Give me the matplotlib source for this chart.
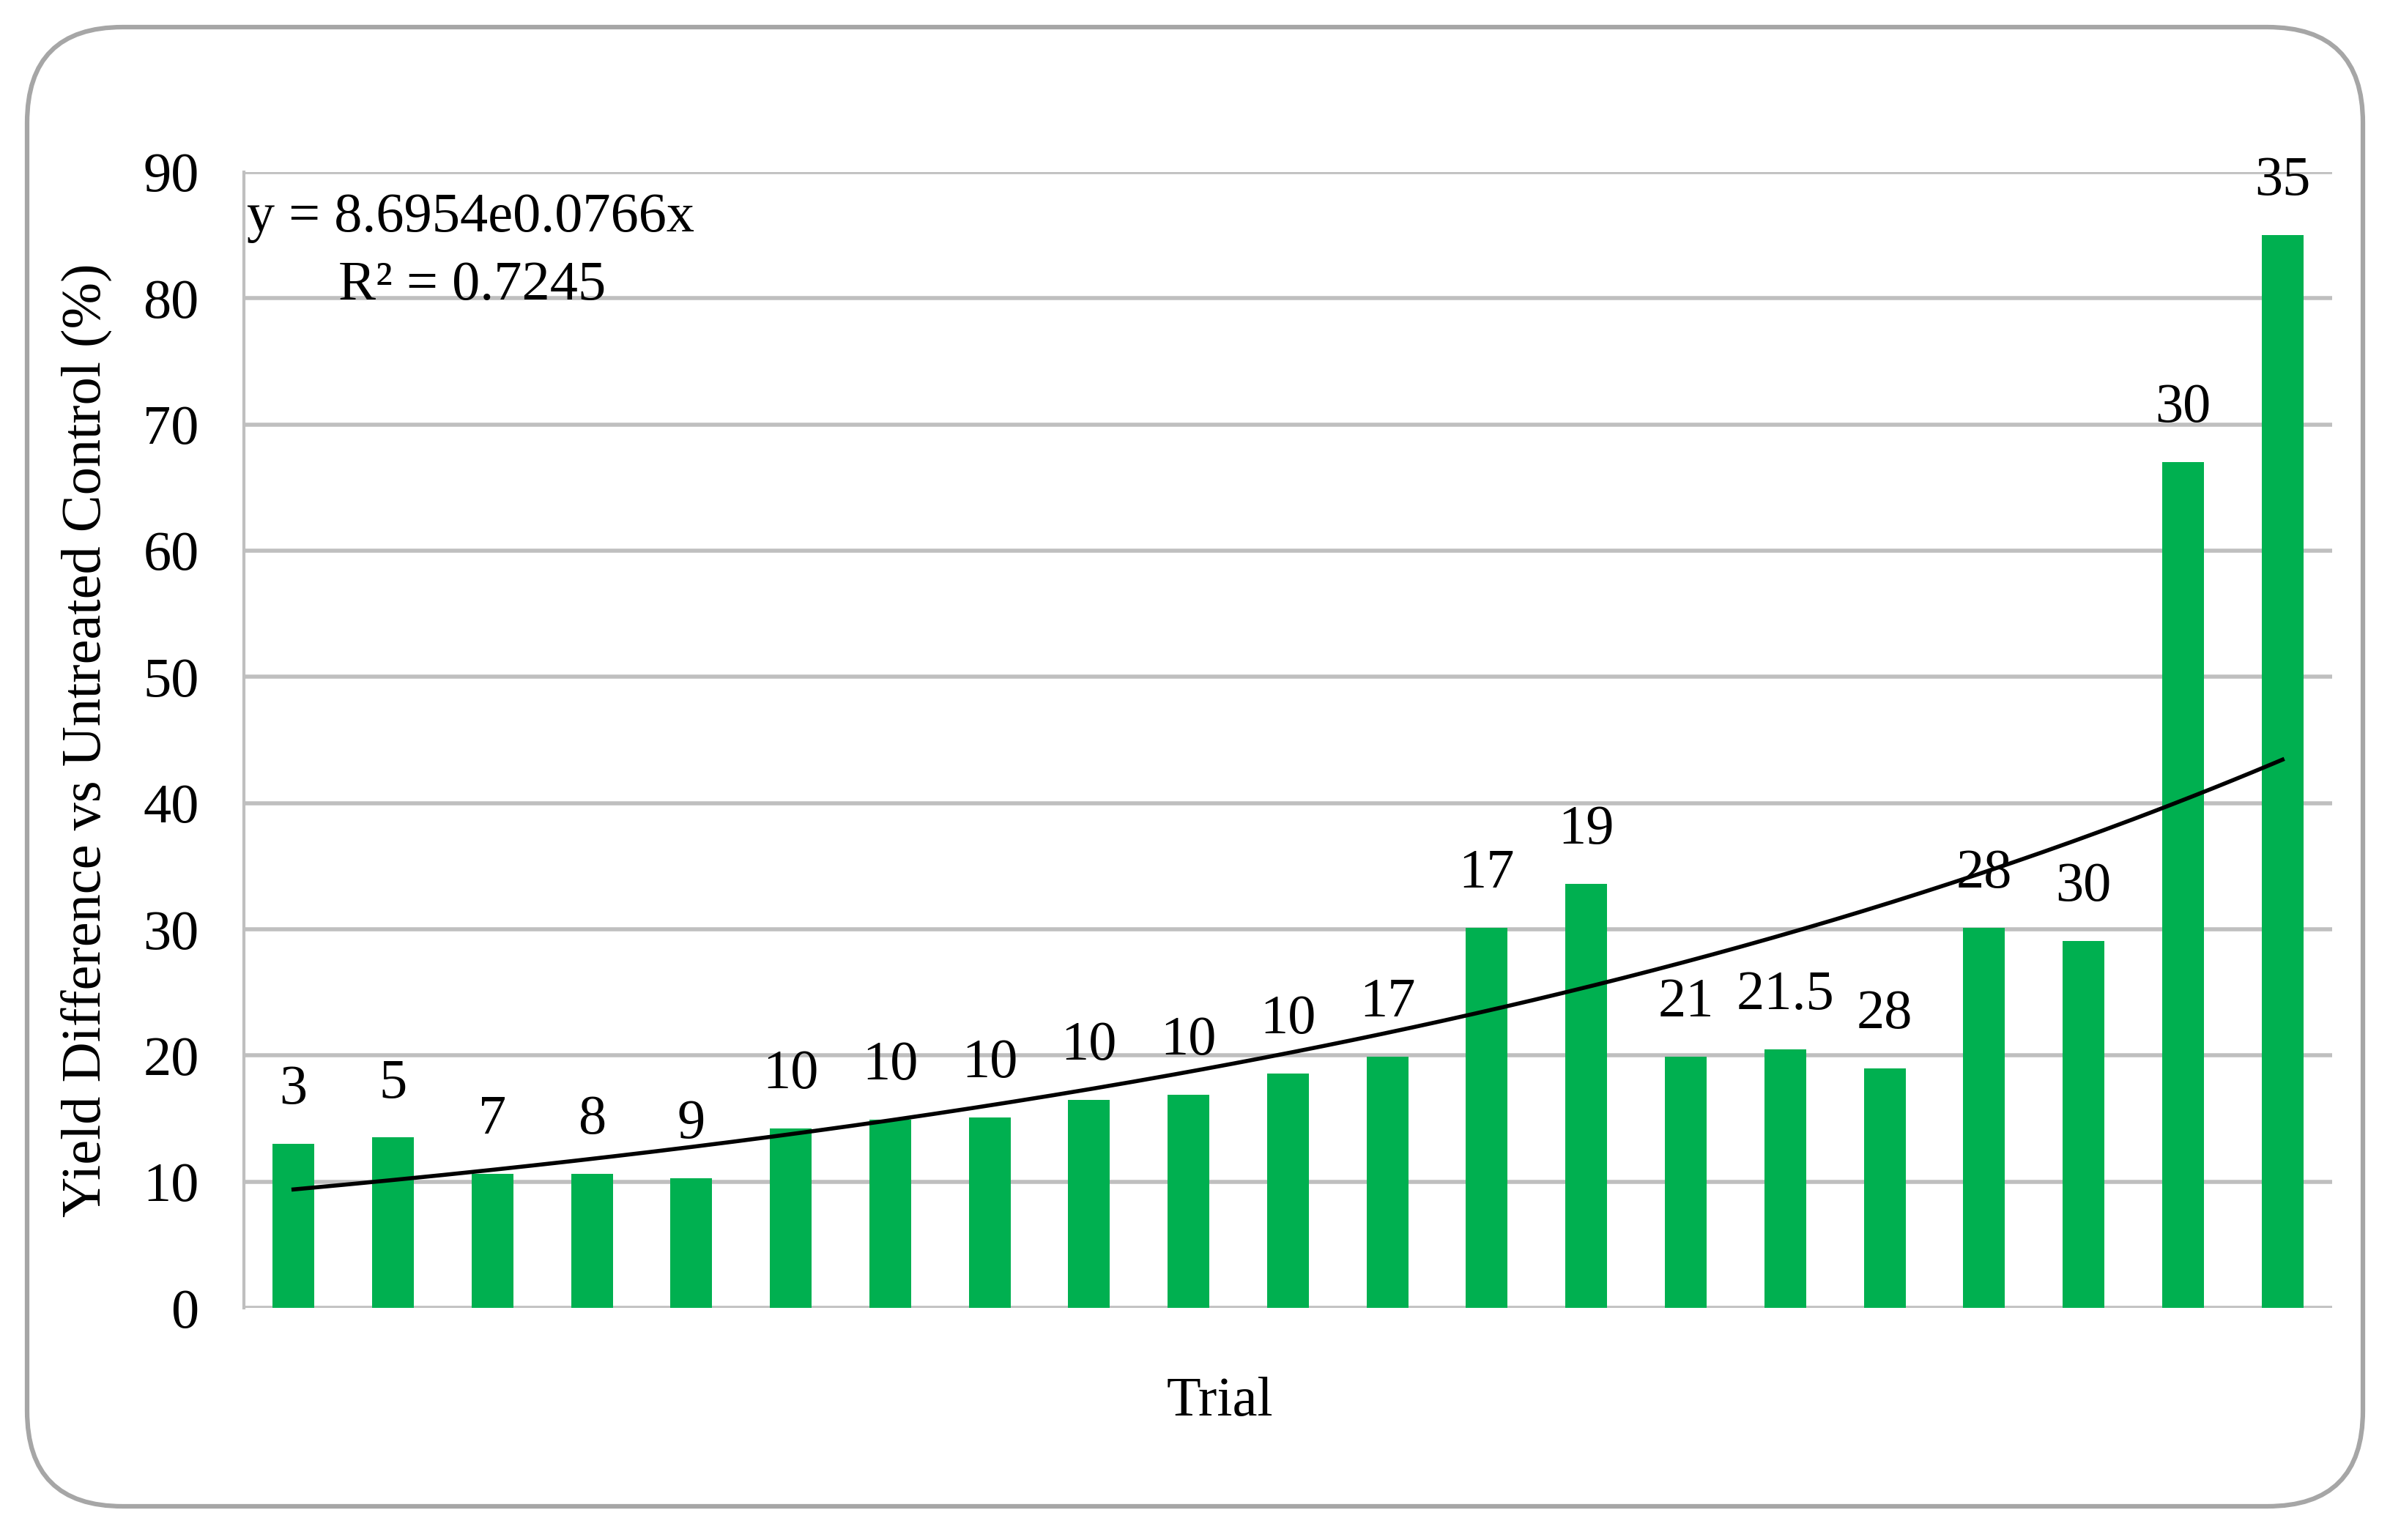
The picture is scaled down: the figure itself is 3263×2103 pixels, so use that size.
import numpy as np
import matplotlib
matplotlib.use("Agg")
import matplotlib.pyplot as plt
from matplotlib.patches import FancyBboxPatch

# bar heights (yield difference, %)
trials = list(range(1, 22))
yield_diff = [13.0, 13.5, 10.6, 10.6, 10.3, 14.2, 14.9, 15.1, 16.5, 16.9, 18.6,
              19.9, 30.1, 33.6, 19.9, 20.5, 19.0, 30.1, 29.1, 67.0, 85.0]
bar_labels = ["3", "5", "7", "8", "9", "10", "10", "10", "10", "10", "10",
              "17", "17", "19", "21", "21.5", "28", "28", "30", "30", "35"]
y_ticks = [0, 10, 20, 30, 40, 50, 60, 70, 80, 90]

# exponential trendline as printed on the chart
fit_a = 8.6954
fit_b = 0.0766
fit_text = "y = 8.6954e0.0766x"
r2_text = "R\u00b2 = 0.7245"

plt.rcParams["font.family"] = ["Liberation Serif", "DejaVu Serif"]
FS = 55
GREEN = "#00B050"
GRID = "#BFBFBF"

fig = plt.figure(figsize=(32.63, 21.03), dpi=100)
ax = fig.add_axes([0.102, 0.1507, 0.8738, 0.7376])

ax.bar(trials, yield_diff, width=0.42, color=GREEN, zorder=3)

for x, h, lab in zip(trials, yield_diff, bar_labels):
    ax.annotate(lab, (x, h), xytext=(0, 28), textcoords="offset points",
                ha="center", va="bottom", fontsize=FS, zorder=5)

xs = np.linspace(1, 21, 200)
ax.plot(xs, fit_a * np.exp(fit_b * xs), color="black", lw=4, zorder=4)

ax.set_xlim(0.5, 21.5)
ax.set_ylim(0, 90)
ax.set_yticks(y_ticks)
ax.set_yticklabels([str(t) for t in y_ticks], fontsize=FS)
ax.set_xticks([])
ax.tick_params(axis="y", length=0, pad=44)
ax.grid(axis="y", color=GRID, lw=4, zorder=1)
for s in ["top", "right", "bottom"]:
    ax.spines[s].set_visible(False)
ax.spines["left"].set_color(GRID)
ax.spines["left"].set_linewidth(3)
ax.spines["left"].set_zorder(2)

ax.set_ylabel("Yield Difference vs Untreated Control (%)", fontsize=FS, labelpad=30)
fig.text(1665 / 3263, 1 - 1915 / 2103, "Trial", fontsize=FS, ha="center", va="center")

fig.text(337 / 3263, 1 - 298 / 2103, fit_text, fontsize=FS, ha="left", va="center")
fig.text(462 / 3263, 1 - 391 / 2103, r2_text, fontsize=FS, ha="left", va="center")

border = FancyBboxPatch((37 / 3263, 46 / 2103), (3226 - 37) / 3263, (2066 - 46) / 2103,
                        boxstyle="round,pad=0,rounding_size=0.04",
                        transform=fig.transFigure, fill=False,
                        edgecolor="#A6A6A6", lw=4.5, mutation_aspect=3263 / 2103)
fig.patches.append(border)

fig.savefig("out.png", dpi=100)
